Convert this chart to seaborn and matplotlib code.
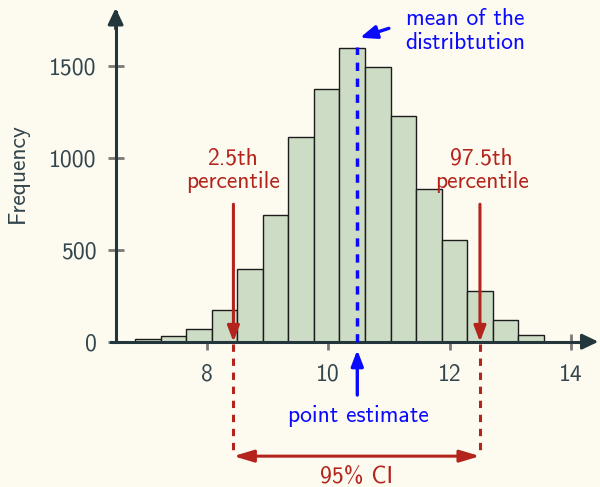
import numpy as np
import pandas as pd
import matplotlib
matplotlib.use("Agg")
import matplotlib.pyplot as plt
import seaborn as sns

# ---------------- data ----------------
bin_start = 6.82          # left edge of first bin
bin_width = 0.4208
counts = [15, 31, 69, 173, 395, 690, 1114, 1372, 1594, 1495, 1227, 832, 554, 274, 118, 36]
mean_value = 10.48        # mean of the bootstrap distribution / point estimate
ci_low = 8.44             # 2.5th percentile
ci_high = 12.50           # 97.5th percentile
x_ticks = [8, 10, 12, 14]
y_ticks = [0, 500, 1000, 1500]
y_label = "Frequency"

edges = bin_start + bin_width * np.arange(len(counts) + 1)
centers = (edges[:-1] + edges[1:]) / 2
df = pd.DataFrame({"value": centers, "count": counts})

sns.set_theme(style="white")
plt.rcParams["font.family"] = ["cmss10", "DejaVu Sans"]
plt.rcParams["axes.unicode_minus"] = False

BG = "#fdfaf0"
AX = "#22363b"
TXT = "#33454c"
RED = "#b3241c"
BLUE = "#0a0aff"
FILL = "#cddcc5"
FS = 17

fig = plt.figure(figsize=(6, 4.87), dpi=100, facecolor=BG)
ax = fig.add_axes([0, 0, 1, 1])
ax.set_facecolor(BG)

sns.histplot(data=df, x="value", weights="count", bins=len(counts),
             binrange=(float(edges[0]), float(edges[-1])), color=FILL,
             edgecolor="#1c1c1c", linewidth=1.0, alpha=1, ax=ax, zorder=2)

ax.set_xlim(4.596, 14.477)
ax.set_ylim(-789.7, 1857)
ax.set_xlabel("")
ax.set_ylabel("")

# axes through the data origin
for s in ["top", "right"]:
    ax.spines[s].set_visible(False)
ax.spines["left"].set_position(("data", 6.5))
ax.spines["left"].set_bounds(0, 1790)
ax.spines["bottom"].set_position(("data", 0))
ax.spines["bottom"].set_bounds(6.42, 14.3)
for s in ["left", "bottom"]:
    ax.spines[s].set_color(AX)
    ax.spines[s].set_linewidth(2.2)
    ax.spines[s].set_zorder(3)

ax.set_xticks(x_ticks)
ax.set_yticks(y_ticks)
ax.tick_params(axis="both", direction="inout", length=11, width=2,
               color="#7a7a7a", labelsize=FS, labelcolor=TXT,
               bottom=True, left=True)
ax.tick_params(axis="x", pad=10.5)
ax.tick_params(axis="y", pad=8)

def arrow(xy, xytext, color, style="-|>", hl=0.47, hw=0.18, lw=2.2, z=4):
    ax.annotate("", xy=xy, xytext=xytext, annotation_clip=False,
                arrowprops=dict(arrowstyle=f"{style},head_length={hl},head_width={hw}",
                                color=color, lw=lw, shrinkA=0, shrinkB=0,
                                mutation_scale=20),
                zorder=z)

# axis arrowheads
arrow((6.5, 1813), (6.5, 1700), AX, hl=0.48, hw=0.23, lw=2.2)
arrow((14.45, 0), (14.2, 0), AX, hl=0.48, hw=0.23, lw=2.2)

# mean of the distribution
ax.plot([mean_value, mean_value], [0, 1603], color=BLUE, lw=2.5,
        ls=(0, (2.4, 2.2)), zorder=5)
arrow((10.525, 1652), (11.0, 1703), BLUE, hl=0.5, hw=0.2, lw=2.4)
ax.text(12.254, 1688, "mean of the\ndistribtution", color=BLUE, fontsize=FS,
        ha="center", va="center", linespacing=1.1)

# point estimate
arrow((mean_value, -45), (mean_value, -290), BLUE, hl=0.47, hw=0.18, lw=2.4)
ax.text(10.497, -404, "point estimate", color=BLUE, fontsize=FS,
        ha="center", va="center")

# percentiles
for xv, lab, tx in [(ci_low, "2.5th\npercentile", 8.425),
                    (ci_high, "97.5th\npercentile", 12.526)]:
    arrow((xv, 0), (xv, 747), RED, hl=0.47, hw=0.18, lw=2.2)
    ax.text(tx, 933, lab, color=RED, fontsize=FS, ha="center", va="center",
            linespacing=1.1)
    ax.plot([xv, xv], [-12, -616], color=RED, lw=2.2, ls=(0, (2.4, 2.2)),
            zorder=4, clip_on=False)

# 95% CI
arrow((ci_high, -622), (ci_low, -622), RED, style="<|-|>", hl=0.6, hw=0.18, lw=2.2)
ax.text(10.47, -737, "95% CI", color=RED, fontsize=FS, ha="center", va="center")

fig.text(18 / 600, 1 - 173 / 487, y_label, rotation=90, color=TXT,
         fontsize=FS, ha="center", va="center")

fig.savefig("out.png", dpi=100, facecolor=BG)
